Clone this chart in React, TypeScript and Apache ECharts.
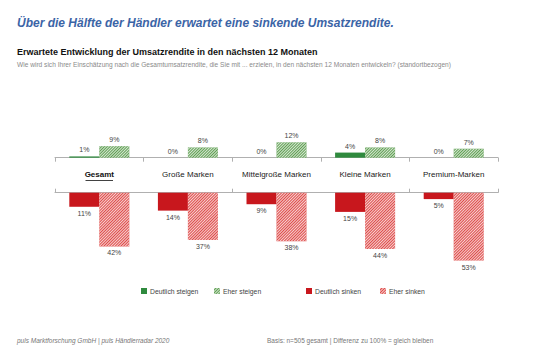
import React, { useEffect, useRef } from "react";
import * as echarts from "echarts";

const categories = ["Gesamt", "Große Marken", "Mittelgroße Marken", "Kleine Marken", "Premium-Marken"];
const deutlichSteigen = [1, 0, 0, 4, 0];
const eherSteigen = [9, 8, 12, 8, 7];
const deutlichSinken = [11, 14, 9, 15, 5];
const eherSinken = [42, 37, 38, 44, 53];
const legendNames = ["Deutlich steigen", "Eher steigen", "Deutlich sinken", "Eher sinken"];

const FONT = "Liberation Sans, Arial, sans-serif";

const hatch = (rot: number) => ({
  symbol: "rect",
  symbolSize: 1,
  color: "rgba(255,255,255,0.75)",
  dashArrayX: [1, 0],
  dashArrayY: [0.7, 0.9],
  rotation: rot,
});

export default function App() {
  const ref = useRef<HTMLDivElement>(null);
  useEffect(() => {
    if (!ref.current) return;
    const chart = echarts.init(ref.current, null, { renderer: "svg" });
    const labelStyle = {
      show: true,
      fontSize: 7,
      color: "#444",
      fontFamily: FONT,
      formatter: (p: any) => p.value + "%",
      distance: 3,
    };
    const left = 55;
    const right = 54;
    const legendX = [136, 209, 301, 375];
    chart.setOption({
      animation: false,
      backgroundColor: "#fff",
      textStyle: { fontFamily: FONT },
      title: [
        {
          text: "Über die Hälfte der Händler erwartet eine sinkende Umsatzrendite.",
          left: 12,
          top: 12,
          textStyle: { fontSize: 12, fontStyle: "italic", fontWeight: "bold", color: "#3b64a6", fontFamily: FONT },
        },
        {
          text: "Erwartete Entwicklung der Umsatzrendite in den nächsten 12 Monaten",
          left: 12,
          top: 42,
          textStyle: { fontSize: 9, fontWeight: "bold", color: "#111", fontFamily: FONT },
        },
        {
          text: "Wie wird sich Ihrer Einschätzung nach die Gesamtumsatzrendite, die Sie mit ... erzielen, in den nächsten 12 Monaten entwickeln? (standortbezogen)",
          left: 12,
          top: 55.5,
          textStyle: { fontSize: 6.6, fontWeight: "normal", color: "#8a8a8a", fontFamily: FONT },
        },
        {
          text: "puls Marktforschung GmbH | puls Händlerradar 2020",
          left: 12,
          top: 331.5,
          textStyle: { fontSize: 6.5, fontWeight: "normal", fontStyle: "italic", color: "#777", fontFamily: FONT },
        },
        {
          text: "Basis: n=505 gesamt | Differenz zu 100% = gleich bleiben",
          left: 262,
          top: 331.5,
          textStyle: { fontSize: 6.5, fontWeight: "normal", color: "#777", fontFamily: FONT },
        },
      ],
      legend: legendNames.map((n, i) => ({
        top: 282.5,
        left: legendX[i],
        itemWidth: 6,
        itemHeight: 6,
        itemGap: 5,
        icon: "rect",
        textStyle: { fontSize: 6.8, color: "#444", fontFamily: FONT, padding: [0, 0, 0, -2] },
        data: [n],
      })),
      grid: [
        { left, right, top: 132.1, height: 25.6 },
        { left, right, top: 192.7, height: 76.8 },
      ],
      xAxis: [
        {
          gridIndex: 0,
          type: "category",
          data: categories,
          position: "bottom",
          axisLine: { lineStyle: { color: "#b0b0b0", width: 1 } },
          axisTick: { show: true, length: 4, lineStyle: { color: "#b0b0b0" } },
          axisLabel: {
            interval: 0,
            margin: 13,
            fontSize: 8,
            color: "#222",
            fontFamily: FONT,
            formatter: (v: string) => (v === "Gesamt" ? "{g|" + v + "}" : v),
            rich: { g: { fontWeight: "bold", fontSize: 8, color: "#111", fontFamily: FONT } },
          },
        },
        {
          gridIndex: 1,
          type: "category",
          data: categories,
          position: "top",
          axisLine: { lineStyle: { color: "#b0b0b0", width: 1 } },
          axisTick: { show: true, length: 4, lineStyle: { color: "#b0b0b0" } },
          axisLabel: { show: false },
        },
      ],
      yAxis: [
        { gridIndex: 0, type: "value", min: 0, max: 20, show: false },
        { gridIndex: 1, type: "value", min: 0, max: 60, show: false, inverse: true },
      ],
      graphic: [
        { type: "line", shape: { x1: 85.5, y1: 180.5, x2: 113, y2: 180.5 }, style: { stroke: "#111", lineWidth: 0.8 } },
      ],
      series: [
        {
          name: "Deutlich steigen",
          type: "bar",
          xAxisIndex: 0,
          yAxisIndex: 0,
          data: deutlichSteigen,
          barWidth: 30,
          barGap: "0%",
          itemStyle: { color: "#2f8a3e" },
          label: { ...labelStyle, position: "top" },
        },
        {
          name: "Eher steigen",
          type: "bar",
          xAxisIndex: 0,
          yAxisIndex: 0,
          data: eherSteigen,
          barWidth: 30,
          barGap: "0%",
          itemStyle: { color: "#5f9f52", decal: hatch(-Math.PI / 4) },
          label: { ...labelStyle, position: "top" },
        },
        {
          name: "Deutlich sinken",
          type: "bar",
          xAxisIndex: 1,
          yAxisIndex: 1,
          data: deutlichSinken,
          barWidth: 30,
          barGap: "0%",
          itemStyle: { color: "#c8171d" },
          label: { ...labelStyle, position: "bottom" },
        },
        {
          name: "Eher sinken",
          type: "bar",
          xAxisIndex: 1,
          yAxisIndex: 1,
          data: eherSinken,
          barWidth: 30,
          barGap: "0%",
          itemStyle: { color: "#de4a48", decal: hatch(-Math.PI / 4) },
          label: { ...labelStyle, position: "bottom" },
        },
      ],
    });
    return () => chart.dispose();
  }, []);
  return <div ref={ref} style={{ width: 552, height: 354, position: "absolute", left: 0, top: 0 }} />;
}
